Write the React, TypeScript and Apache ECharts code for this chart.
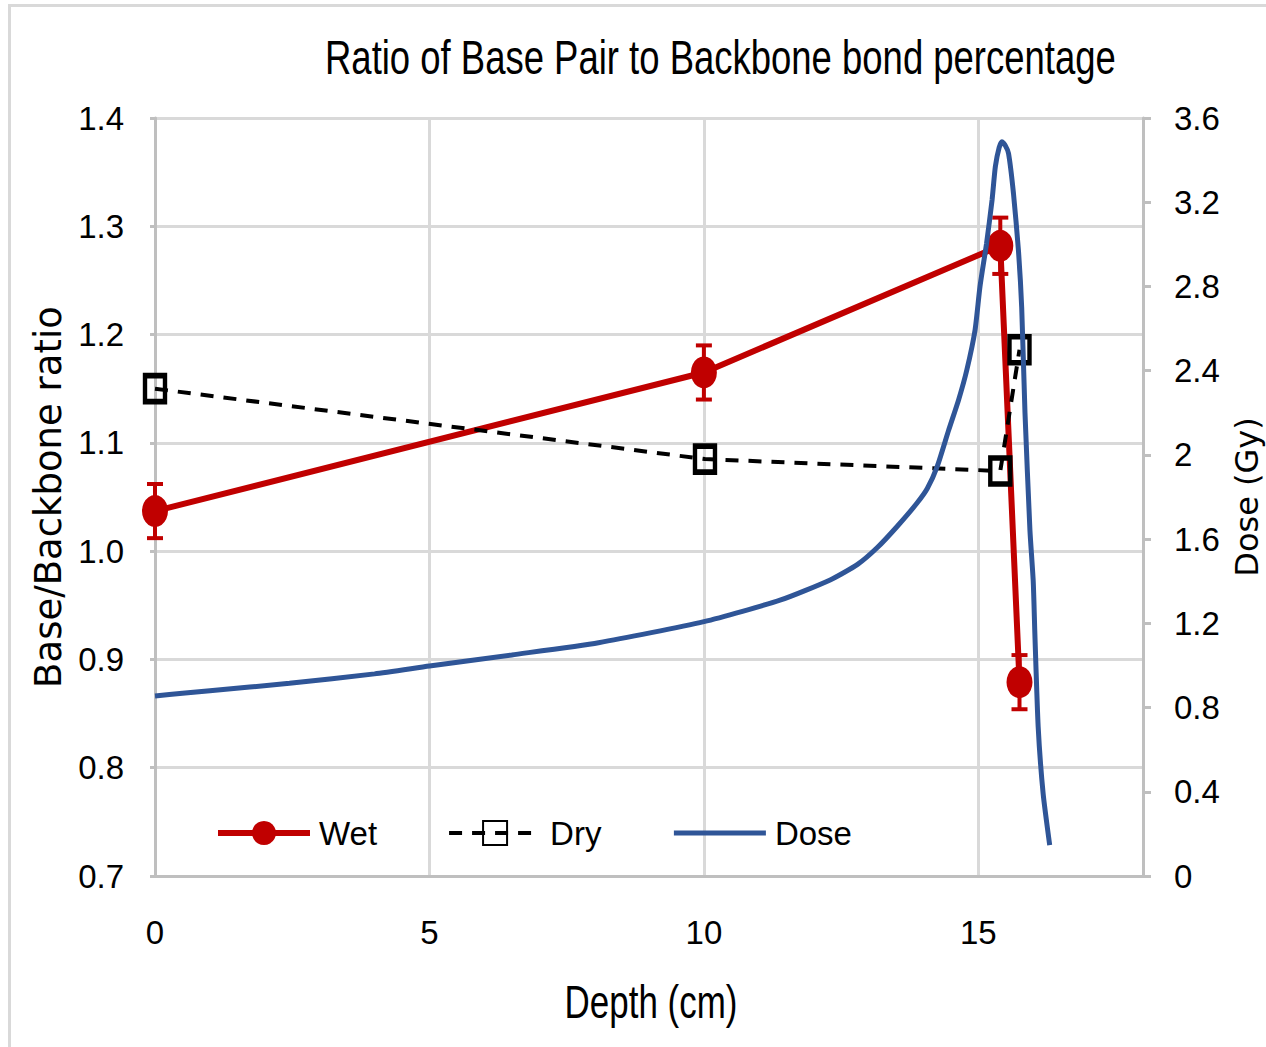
import React, { useEffect, useRef } from "react";
import * as echarts from "echarts";

// Base pair / backbone ratio measured wet and dry, against depth in the phantom
const wetDepth = [0, 10, 15.4, 15.75];
const wetRatio = [1.037, 1.165, 1.282, 0.879];
const wetError = [0.025, 0.025, 0.026, 0.025];

const dryDepth = [0, 10.02, 15.4, 15.75];
const dryRatio = [1.15, 1.085, 1.074, 1.186];

// Depth-dose curve (Gy) on the secondary axis
const doseDepth = [
  0, 0.5, 1, 2.45, 4, 5, 6.5, 8.08, 10, 11.4, 12.3, 12.8, 13.16, 13.52, 13.88,
  14.07, 14.25, 14.46, 14.64, 14.79, 14.94, 15.03, 15.15, 15.25, 15.31, 15.38,
  15.43, 15.49, 15.55, 15.64, 15.73, 15.79, 15.85, 15.94, 16.0, 16.03, 16.09,
  16.18, 16.3,
];
const doseGy = [
  0.855, 0.868, 0.88, 0.915, 0.96, 0.997, 1.05, 1.108, 1.208, 1.311, 1.406,
  1.48, 1.56, 1.66, 1.77, 1.84, 1.944, 2.118, 2.261, 2.403, 2.593, 2.799, 3.005,
  3.21, 3.369, 3.46, 3.487, 3.47, 3.432, 3.242, 2.973, 2.7, 2.2, 1.643, 1.4,
  1.15, 0.71, 0.393, 0.147,
];

const seriesNames = ["Wet", "Dry", "Dose"];
const titleText = "Ratio of Base Pair to Backbone bond percentage";
const xTitle = "Depth (cm)";
const yLeftTitle = "Base/Backbone ratio";
const yRightTitle = "Dose (Gy)";

const SANS = "'Liberation Sans', Arial, sans-serif";
const WIDE = "'DejaVu Sans', Verdana, sans-serif";
const RED = "#C00000";
const BLUE = "#2F5597";
const GRID = "#D9D9D9";
const AXIS = "#BFBFBF";

export default function App() {
  const ref = useRef<HTMLDivElement>(null);

  useEffect(() => {
    document.body.style.margin = "0";
    if (!ref.current) return;
    const chart = echarts.init(ref.current, undefined, { renderer: "svg" });

    const wetData = wetDepth.map((d, i) => [d, wetRatio[i]]);
    const dryData = dryDepth.map((d, i) => [d, dryRatio[i]]);
    const doseData = doseDepth.map((d, i) => [d, doseGy[i]]);
    const errData = wetDepth.map((d, i) => [d, wetRatio[i], wetError[i]]);

    chart.setOption({
      animation: false,
      backgroundColor: "#fff",
      graphic: [
        {
          type: "rect",
          shape: { x: 9.5, y: 5.5, width: 1300, height: 1100 },
          style: { fill: "none", stroke: GRID, lineWidth: 3 },
          silent: true,
        },
        // chart title, drawn in a condensed face
        {
          type: "text",
          x: 325,
          y: 57,
          scaleX: 0.76,
          style: {
            text: titleText,
            font: `48px ${SANS}`,
            fill: "#000",
            textAlign: "left",
            textVerticalAlign: "middle",
          },
          silent: true,
        },
        // horizontal axis title
        {
          type: "text",
          x: 651,
          y: 1002,
          scaleX: 0.76,
          style: {
            text: xTitle,
            font: `46px ${SANS}`,
            fill: "#000",
            textAlign: "center",
            textVerticalAlign: "middle",
          },
          silent: true,
        },
      ],
      legend: {
        data: [
          { name: seriesNames[0], lineStyle: { width: 6 } },
          { name: seriesNames[1], lineStyle: { width: 4 } },
          {
            name: seriesNames[2],
            lineStyle: { width: 5 },
            itemStyle: { color: "rgba(0,0,0,0)", borderWidth: 0 },
          },
        ],
        left: 210,
        top: 810,
        itemWidth: 92,
        itemHeight: 30,
        itemGap: 70,
        textStyle: {
          fontFamily: SANS,
          fontSize: 33,
          color: "#000",
          lineHeight: 36,
          padding: [0, 0, 0, 4],
        },
      },
      grid: { left: 155, right: 123, top: 118, bottom: 171, outerBoundsMode: "none" },
      xAxis: {
        type: "value",
        min: 0,
        max: 18,
        interval: 5,
        axisLine: { show: true, lineStyle: { color: AXIS, width: 3 } },
        axisTick: { show: false },
        axisLabel: {
          showMaxLabel: false,
          margin: 40,
          fontFamily: SANS,
          fontSize: 33,
          color: "#000",
        },
        splitLine: { show: true, lineStyle: { color: GRID, width: 3 } },
      },
      yAxis: [
        {
          type: "value",
          min: 0.7,
          max: 1.4,
          interval: 0.1,
          name: yLeftTitle,
          nameLocation: "middle",
          nameGap: 88,
          nameRotate: 90,
          nameTextStyle: { fontFamily: WIDE, fontSize: 37, color: "#000" },
          axisLine: { show: true, lineStyle: { color: AXIS, width: 3 } },
          axisTick: { show: true, length: 5, lineStyle: { color: AXIS, width: 3 } },
          axisLabel: {
            margin: 31,
            fontFamily: SANS,
            fontSize: 33,
            color: "#000",
            formatter: (v: number) => v.toFixed(1),
          },
          splitLine: { show: true, lineStyle: { color: GRID, width: 3 } },
        },
        {
          type: "value",
          min: 0,
          max: 3.6,
          interval: 0.4,
          name: yRightTitle,
          nameLocation: "middle",
          nameGap: 84,
          nameRotate: 90,
          nameTextStyle: { fontFamily: WIDE, fontSize: 32, color: "#000" },
          axisLine: { show: true, lineStyle: { color: AXIS, width: 3 } },
          axisTick: { show: true, length: 8, lineStyle: { color: AXIS, width: 3 } },
          axisLabel: {
            margin: 31,
            fontFamily: SANS,
            fontSize: 33,
            color: "#000",
            formatter: (v: number) => String(Math.round(v * 10) / 10),
          },
          splitLine: { show: false },
        },
      ],
      series: [
        {
          name: "Wet error",
          type: "custom",
          yAxisIndex: 0,
          z: 1,
          silent: true,
          data: errData,
          encode: { x: 0, y: 1 },
          renderItem: (params: any, api: any) => {
            const x = api.value(0);
            const y = api.value(1);
            const e = api.value(2);
            const top = api.coord([x, y + e]);
            const bot = api.coord([x, y - e]);
            const half = 8;
            const style = { stroke: RED, lineWidth: 4 };
            return {
              type: "group",
              children: [
                { type: "line", shape: { x1: top[0], y1: top[1], x2: bot[0], y2: bot[1] }, style },
                { type: "line", shape: { x1: top[0] - half, y1: top[1], x2: top[0] + half, y2: top[1] }, style },
                { type: "line", shape: { x1: bot[0] - half, y1: bot[1], x2: bot[0] + half, y2: bot[1] }, style },
              ],
            };
          },
        },
        {
          name: "Wet",
          type: "line",
          yAxisIndex: 0,
          z: 3,
          data: wetData,
          symbol: "circle",
          symbolSize: [26, 32],
          itemStyle: { color: RED },
          lineStyle: { color: RED, width: 6 },
        },
        {
          name: "Dry",
          type: "line",
          yAxisIndex: 0,
          z: 3,
          data: dryData,
          symbol: "rect",
          symbolSize: [20, 26],
          itemStyle: { color: "rgba(255,255,255,0)", borderColor: "#000", borderWidth: 5 },
          lineStyle: { color: "#000", width: 4, type: [13, 10] },
        },
        {
          name: "Dose",
          type: "line",
          yAxisIndex: 1,
          z: 4,
          data: doseData,
          showSymbol: false,
          symbol: "none",
          smooth: 0.2,
          itemStyle: { color: BLUE },
          lineStyle: { color: BLUE, width: 5 },
        },
      ],
    });

    return () => chart.dispose();
  }, []);

  return <div ref={ref} style={{ width: 1266, height: 1047 }} />;
}
